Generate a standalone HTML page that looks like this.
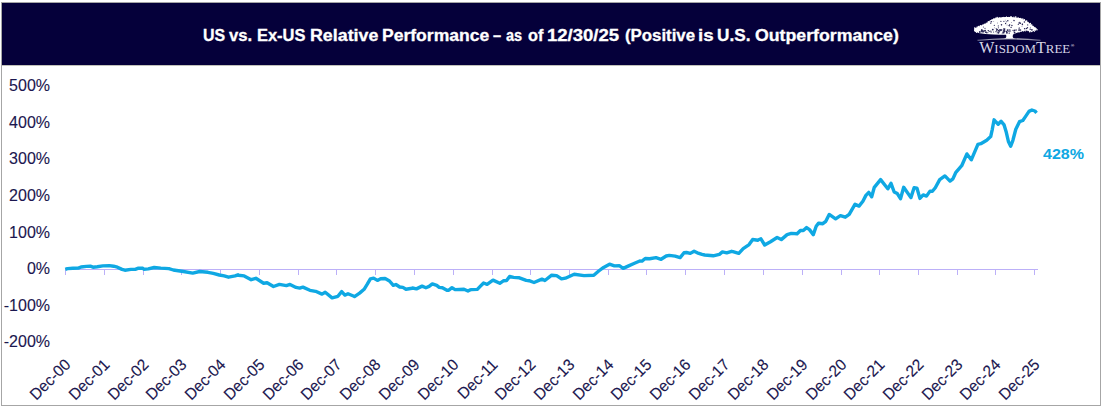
<!DOCTYPE html>
<html><head><meta charset="utf-8"><style>
html,body{margin:0;padding:0;}
body{width:1104px;height:409px;background:#fff;position:relative;overflow:hidden;font-family:"Liberation Sans",sans-serif;}
.frame{position:absolute;left:1px;top:2px;width:1100px;height:404px;box-sizing:border-box;border:1px solid #a6a6a6;}
.hdr{position:absolute;left:2px;top:3px;width:1098px;height:62px;background:#05003a;}
.title{position:absolute;left:0;top:26px;width:1104px;text-align:center;color:#fff;font-weight:bold;font-size:16px;line-height:20px;white-space:nowrap;}
.tw{position:absolute;top:26px;color:#fff;-webkit-text-stroke:0.3px #fff;font-weight:bold;font-size:16px;line-height:20px;white-space:nowrap;transform-origin:0 0;}
.yl{position:absolute;left:0;width:50px;text-align:right;font-size:16px;-webkit-text-stroke:0.12px #1b174f;line-height:18px;color:#1b174f;}
.xl{position:absolute;top:353px;width:100px;text-align:right;font-size:16px;-webkit-text-stroke:0.12px #1b174f;line-height:18px;color:#1b174f;transform-origin:100% 50%;transform:rotate(-45deg) scaleX(0.97);white-space:nowrap;}
.val{position:absolute;left:1043px;top:144.5px;font-size:15.5px;transform-origin:0 0;transform:scaleX(1.035);font-weight:bold;color:#0fa8e3;line-height:18px;}
svg{position:absolute;left:0;top:0;}
</style></head><body>
<div class="frame"></div>
<div class="hdr"></div><div style="position:absolute;left:2px;top:65px;width:1098px;height:1px;background:#c2c2ba"></div>

<svg width="1104" height="409" viewBox="0 0 1104 409">
<path d="M975,29.6 L975,28 L979,26.4 L982.8,24.8 L986.5,23.1 L990.3,20.5 L993.5,18.8 L997.3,17.8 L1002,17.2 L1006,17.0 L1011.3,17.1 L1016,17.5 L1020.9,18.2 L1024.5,20.1 L1028.2,22.6 L1031.9,25.2 L1035.5,27.8 L1036.6,29.8 L1034,31 L1030,31.2 L1026,30.4 L1021,31.6 L1017,32.8 L1013,34.6 L1006,34.8 L1000,34.8 L993.5,34.4 L985.4,33.9 L978.5,33.1 L975.2,31.2 Z" fill="#fff"/><g fill="#fff"><circle cx="975.0" cy="29.6" r="0.87"/><circle cx="975.0" cy="28.8" r="0.73"/><circle cx="974.7" cy="28.0" r="0.75"/><circle cx="977.2" cy="26.9" r="0.62"/><circle cx="978.7" cy="26.6" r="0.78"/><circle cx="980.5" cy="26.0" r="0.89"/><circle cx="982.9" cy="24.9" r="0.56"/><circle cx="984.3" cy="24.0" r="0.52"/><circle cx="986.3" cy="22.9" r="0.51"/><circle cx="988.4" cy="21.8" r="0.84"/><circle cx="990.3" cy="20.6" r="0.70"/><circle cx="992.0" cy="19.6" r="0.61"/><circle cx="993.9" cy="19.2" r="0.84"/><circle cx="995.6" cy="18.2" r="0.59"/><circle cx="997.1" cy="17.5" r="0.81"/><circle cx="999.6" cy="17.8" r="0.65"/><circle cx="1002.4" cy="17.5" r="0.50"/><circle cx="1003.8" cy="17.4" r="0.69"/><circle cx="1006.4" cy="16.9" r="0.53"/><circle cx="1008.8" cy="17.3" r="0.61"/><circle cx="1011.0" cy="17.0" r="0.89"/><circle cx="1013.9" cy="17.0" r="0.60"/><circle cx="1015.7" cy="17.1" r="0.82"/><circle cx="1018.2" cy="17.9" r="0.68"/><circle cx="1020.7" cy="18.4" r="0.55"/><circle cx="1022.8" cy="18.8" r="0.67"/><circle cx="1024.3" cy="19.9" r="0.89"/><circle cx="1026.6" cy="21.2" r="0.85"/><circle cx="1028.0" cy="22.5" r="0.84"/><circle cx="1030.2" cy="23.6" r="0.90"/><circle cx="1031.7" cy="25.0" r="0.81"/><circle cx="1033.6" cy="26.3" r="0.53"/><circle cx="1035.2" cy="27.9" r="0.60"/><circle cx="1036.1" cy="28.7" r="0.68"/><circle cx="1037.0" cy="29.8" r="0.73"/><circle cx="1035.6" cy="30.1" r="0.56"/><circle cx="1034.3" cy="31.3" r="0.60"/><circle cx="1031.8" cy="31.3" r="0.88"/><circle cx="1029.8" cy="31.6" r="0.85"/><circle cx="1028.1" cy="30.7" r="0.54"/><circle cx="1025.6" cy="30.8" r="0.60"/><circle cx="1023.7" cy="30.8" r="0.83"/><circle cx="1021.1" cy="31.4" r="0.57"/><circle cx="1019.2" cy="31.9" r="0.59"/><circle cx="976.5" cy="32.3" r="0.69"/><circle cx="975.4" cy="31.1" r="0.90"/><circle cx="974.8" cy="30.4" r="0.79"/></g>
<path d="M1006.1,34 L1013,34 L1012.7,36.8 C1012.9,37.8 1013.8,38.3 1015,38.6 L1004,38.6 C1005.3,38.3 1006.1,37.8 1006.3,36.8 Z" fill="#fff"/>
<defs><linearGradient id="gl" x1="977" x2="1041" y1="0" y2="0" gradientUnits="userSpaceOnUse"><stop offset="0" stop-color="#fff" stop-opacity="0.35"/><stop offset="0.5" stop-color="#fff" stop-opacity="0.95"/><stop offset="1" stop-color="#fff" stop-opacity="0.35"/></linearGradient></defs><path d="M977.5,40.4 Q1008,37.2 1040.5,40.4" fill="none" stroke="url(#gl)" stroke-width="1.1"/>
<g fill="#05003a" opacity="0.85"><circle cx="991.6" cy="21.5" r="0.56"/><circle cx="985.0" cy="28.3" r="0.59"/><circle cx="1004.4" cy="29.7" r="0.89"/><circle cx="999.7" cy="31.1" r="0.67"/><circle cx="1011.1" cy="27.4" r="0.66"/><circle cx="985.8" cy="32.1" r="0.93"/><circle cx="1030.3" cy="27.2" r="0.45"/><circle cx="979.8" cy="32.0" r="0.94"/><circle cx="981.3" cy="31.1" r="0.66"/><circle cx="1019.1" cy="23.1" r="0.79"/><circle cx="1001.9" cy="29.7" r="0.57"/><circle cx="997.2" cy="29.5" r="0.82"/><circle cx="998.6" cy="30.6" r="0.46"/><circle cx="1010.2" cy="30.0" r="0.61"/><circle cx="989.4" cy="31.2" r="0.57"/><circle cx="996.0" cy="31.7" r="0.67"/><circle cx="996.2" cy="28.6" r="0.55"/><circle cx="1007.8" cy="20.7" r="0.73"/><circle cx="1024.4" cy="28.4" r="0.51"/><circle cx="1002.1" cy="33.7" r="0.45"/><circle cx="1011.3" cy="22.4" r="0.37"/><circle cx="1030.2" cy="29.3" r="0.75"/><circle cx="991.1" cy="32.1" r="0.69"/><circle cx="1008.1" cy="31.4" r="0.54"/><circle cx="1001.4" cy="25.5" r="0.35"/><circle cx="983.4" cy="26.9" r="0.52"/><circle cx="998.4" cy="27.8" r="0.52"/><circle cx="998.3" cy="25.9" r="0.54"/><circle cx="1001.5" cy="24.7" r="0.77"/><circle cx="998.5" cy="32.8" r="0.85"/><circle cx="1024.8" cy="28.8" r="0.71"/><circle cx="1016.1" cy="30.0" r="0.73"/><circle cx="984.6" cy="30.7" r="0.47"/><circle cx="983.3" cy="31.8" r="0.79"/><circle cx="1010.7" cy="31.1" r="0.47"/><circle cx="1022.0" cy="26.2" r="0.40"/><circle cx="1009.8" cy="31.6" r="0.57"/><circle cx="1013.0" cy="30.3" r="0.65"/><circle cx="1005.0" cy="28.4" r="0.42"/><circle cx="981.8" cy="30.2" r="0.91"/><circle cx="1007.0" cy="25.0" r="0.43"/><circle cx="1018.3" cy="24.5" r="0.61"/><circle cx="997.6" cy="23.0" r="0.41"/><circle cx="1011.9" cy="25.5" r="0.72"/><circle cx="1009.4" cy="25.7" r="0.74"/><circle cx="1000.0" cy="30.0" r="0.93"/><circle cx="1019.1" cy="29.0" r="0.73"/><circle cx="1001.4" cy="29.9" r="0.49"/><circle cx="981.6" cy="31.7" r="0.60"/><circle cx="998.5" cy="30.6" r="0.83"/><circle cx="1024.4" cy="22.0" r="0.78"/><circle cx="1005.6" cy="23.5" r="0.66"/><circle cx="1013.9" cy="20.5" r="0.64"/><circle cx="1019.0" cy="30.3" r="0.72"/><circle cx="999.0" cy="32.3" r="0.47"/><circle cx="1006.3" cy="21.7" r="0.51"/><circle cx="1022.3" cy="23.5" r="0.40"/><circle cx="982.8" cy="30.7" r="0.81"/><circle cx="1001.0" cy="30.1" r="0.86"/><circle cx="984.1" cy="31.0" r="0.76"/><circle cx="1027.5" cy="27.7" r="0.67"/><circle cx="1020.4" cy="23.3" r="0.77"/><circle cx="1027.7" cy="24.9" r="0.57"/><circle cx="994.3" cy="25.4" r="0.53"/><circle cx="986.8" cy="32.8" r="0.81"/><circle cx="988.5" cy="30.8" r="0.52"/><circle cx="1019.7" cy="22.2" r="0.56"/><circle cx="991.0" cy="22.0" r="0.63"/><circle cx="1004.6" cy="31.2" r="0.91"/><circle cx="994.3" cy="27.8" r="0.39"/><circle cx="993.6" cy="31.9" r="0.51"/><circle cx="1020.4" cy="30.0" r="0.87"/><circle cx="1009.2" cy="33.2" r="0.63"/><circle cx="1000.9" cy="21.4" r="0.57"/><circle cx="1019.2" cy="27.8" r="0.52"/><circle cx="1005.2" cy="20.1" r="0.36"/><circle cx="1004.0" cy="30.4" r="0.79"/><circle cx="1026.6" cy="28.4" r="0.74"/><circle cx="1003.0" cy="32.7" r="0.82"/><circle cx="1009.7" cy="24.6" r="0.62"/><circle cx="988.0" cy="32.7" r="0.49"/><circle cx="1003.9" cy="21.3" r="0.63"/><circle cx="1014.5" cy="30.4" r="0.89"/><circle cx="982.7" cy="31.7" r="0.75"/><circle cx="1008.4" cy="25.4" r="0.38"/><circle cx="1009.2" cy="30.0" r="0.66"/><circle cx="1031.9" cy="29.8" r="0.89"/><circle cx="1022.4" cy="24.4" r="0.76"/><circle cx="981.8" cy="29.8" r="0.60"/><circle cx="996.7" cy="30.1" r="0.82"/><circle cx="985.2" cy="30.5" r="0.80"/><circle cx="997.6" cy="32.0" r="0.59"/><circle cx="1003.8" cy="32.6" r="0.85"/><circle cx="993.8" cy="21.6" r="0.35"/><circle cx="988.2" cy="30.6" r="0.68"/><circle cx="990.8" cy="31.1" r="0.66"/><circle cx="1006.5" cy="31.6" r="0.73"/><circle cx="1014.6" cy="32.7" r="0.90"/><circle cx="1004.0" cy="28.8" r="0.72"/><circle cx="1003.3" cy="31.2" r="0.68"/><circle cx="992.8" cy="29.6" r="0.91"/><circle cx="1006.9" cy="32.7" r="0.93"/><circle cx="1014.6" cy="20.8" r="0.43"/><circle cx="999.0" cy="31.6" r="0.61"/><circle cx="1007.6" cy="30.1" r="0.87"/><circle cx="1013.9" cy="31.4" r="0.45"/><circle cx="997.1" cy="33.1" r="0.49"/><circle cx="990.8" cy="23.5" r="0.57"/></g>
<text x="979.2" y="53.1" fill="#d6d5e6" font-family="Liberation Serif" textLength="91" lengthAdjust="spacingAndGlyphs"><tspan font-size="16">W</tspan><tspan font-size="12.9">ISDOM</tspan><tspan font-size="16">T</tspan><tspan font-size="12.9">REE</tspan></text>
<text x="1070.9" y="46.8" fill="#e0e0ea" font-family="Liberation Sans" font-weight="bold" font-size="4.3">®</text>
</svg>

<div class="tw" style="left:202.60px;transform:scaleX(0.9952)">US</div><div class="tw" style="left:229.00px;transform:scaleX(1.0409)">vs.</div><div class="tw" style="left:256.87px;transform:scaleX(1.0283)">Ex-US</div><div class="tw" style="left:309.79px;transform:scaleX(1.1133)">Relative</div><div class="tw" style="left:381.70px;transform:scaleX(1.0959)">Performance</div><div class="tw" style="left:493.20px;transform:scaleX(0.9111)">–</div><div class="tw" style="left:506.30px;transform:scaleX(0.9056)">as</div><div class="tw" style="left:527.50px;transform:scaleX(1.0187)">of</div><div class="tw" style="left:547.44px;transform:scaleX(1.1574)">12/30/25</div><div class="tw" style="left:624.60px;transform:scaleX(1.0507)">(Positive</div><div class="tw" style="left:697.83px;transform:scaleX(1.1667)">is</div><div class="tw" style="left:717.03px;transform:scaleX(1.0733)">U.S.</div><div class="tw" style="left:755.40px;transform:scaleX(1.1078)">Outperformance)</div>
<svg width="1104" height="409" viewBox="0 0 1104 409">
<g fill="#bcb0f8" shape-rendering="crispEdges">
<rect x="65" y="269" width="973" height="1" />
<rect x="65" y="270" width="1" height="5" /><rect x="104" y="270" width="1" height="5" /><rect x="143" y="270" width="1" height="5" /><rect x="181" y="270" width="1" height="5" /><rect x="220" y="270" width="1" height="5" /><rect x="259" y="270" width="1" height="5" /><rect x="298" y="270" width="1" height="5" /><rect x="336" y="270" width="1" height="5" /><rect x="375" y="270" width="1" height="5" /><rect x="414" y="270" width="1" height="5" /><rect x="453" y="270" width="1" height="5" /><rect x="492" y="270" width="1" height="5" /><rect x="530" y="270" width="1" height="5" /><rect x="569" y="270" width="1" height="5" /><rect x="608" y="270" width="1" height="5" /><rect x="646" y="270" width="1" height="5" /><rect x="685" y="270" width="1" height="5" /><rect x="724" y="270" width="1" height="5" /><rect x="763" y="270" width="1" height="5" /><rect x="802" y="270" width="1" height="5" /><rect x="841" y="270" width="1" height="5" /><rect x="879" y="270" width="1" height="5" /><rect x="918" y="270" width="1" height="5" /><rect x="957" y="270" width="1" height="5" /><rect x="995" y="270" width="1" height="5" /><rect x="1034" y="270" width="1" height="5" />
</g>
<path d="M65.3,269.3 L67.4,268.6 L72.9,268.3 L78.3,268.1 L81.0,267.0 L86.5,266.4 L90.3,266.2 L93.0,267.2 L97.3,266.7 L102.8,265.9 L109.3,265.6 L113.6,266.2 L117.4,267.2 L122.0,269.4 L124.9,270.2 L130.9,269.4 L135.2,269.4 L138.5,268.1 L142.8,268.3 L143.9,269.2 L148.3,268.9 L154.2,267.5 L160.8,268.1 L168.9,268.6 L173.3,270.0 L180.0,271.0 L183.4,271.5 L192.7,273.1 L199.7,271.5 L207.9,272.3 L213.3,273.4 L219.3,275.0 L224.2,275.9 L228.5,277.2 L235.1,275.9 L238.0,274.8 L238.3,275.1 L238.3,275.3 L244.2,275.9 L251.2,279.7 L255.9,278.3 L263.6,283.2 L267.1,282.7 L273.5,286.5 L279.4,284.4 L286.4,285.6 L290.0,284.4 L296.0,287.4 L299.7,288.1 L302.9,287.1 L309.9,290.3 L315.6,291.3 L322.0,294.1 L325.2,292.2 L332.1,297.9 L337.9,296.3 L341.7,291.6 L344.9,295.1 L348.0,293.8 L354.0,296.3 L354.5,296.6 L359.6,293.1 L364.1,289.3 L367.3,284.2 L370.4,278.8 L373.6,278.1 L377.4,280.4 L380.6,278.8 L385.1,278.5 L389.5,281.0 L393.3,285.4 L395.9,284.5 L399.7,287.0 L402.9,287.4 L406.0,289.3 L412.0,288.3 L412.5,288.0 L416.4,288.9 L422.1,286.1 L425.9,287.7 L429.1,286.4 L432.3,283.9 L436.7,285.4 L439.2,287.4 L442.4,287.7 L446.9,290.2 L448.8,290.2 L452.0,287.7 L455.1,289.6 L464.0,289.3 L467.9,291.0 L470.0,289.9 L471.4,289.6 L477.3,289.4 L480.2,286.4 L483.6,283.0 L487.1,284.3 L493.0,280.1 L499.8,283.3 L503.7,280.7 L506.6,280.5 L509.6,276.4 L513.5,277.4 L519.4,277.8 L526.2,280.4 L529.1,280.7 L534.0,282.5 L541.9,279.1 L544.9,280.5 L551.7,275.2 L556.6,275.6 L561.5,278.9 L565.4,278.2 L574.2,274.3 L584.0,275.6 L593.8,275.2 L598.7,271.0 L603.6,267.4 L609.5,264.2 L614.4,265.9 L619.3,265.7 L623.2,268.4 L628.1,266.1 L633.9,263.5 L639.8,261.0 L641.1,261.1 L642.0,261.1 L645.2,258.5 L649.6,258.7 L656.0,257.6 L661.1,259.3 L666.2,256.0 L669.3,255.4 L675.1,256.1 L680.1,257.6 L684.0,252.8 L686.5,252.5 L690.3,253.4 L694.1,251.2 L697.3,252.8 L702.0,254.4 L704.7,255.0 L713.2,255.8 L719.4,254.3 L722.4,251.9 L726.7,252.9 L731.6,251.3 L732.9,251.6 L738.8,253.4 L743.2,248.7 L749.1,244.6 L752.7,239.5 L757.9,240.2 L758.0,240.0 L760.9,238.8 L764.7,245.0 L770.5,241.7 L777.1,237.5 L781.3,239.6 L787.1,234.6 L791.3,233.4 L797.1,233.8 L800.4,230.5 L803.3,230.5 L806.6,227.6 L809.5,229.6 L813.3,234.6 L816.2,226.3 L818.3,223.4 L818.9,223.2 L822.8,223.7 L825.8,221.3 L829.2,214.4 L835.6,218.8 L840.4,215.6 L845.3,217.2 L849.2,214.4 L855.1,204.2 L859.0,206.1 L862.9,201.2 L865.9,195.4 L868.8,192.4 L871.7,196.8 L874.3,187.3 L880.6,179.6 L887.8,188.8 L891.0,183.3 L894.2,192.0 L897.3,193.6 L900.5,198.7 L903.7,187.3 L910.9,197.6 L914.1,187.8 L917.0,188.2 L919.9,198.4 L923.2,194.9 L926.5,196.1 L930.0,191.1 L932.4,191.3 L935.3,187.7 L939.7,179.6 L944.9,175.9 L950.0,181.1 L952.9,178.9 L955.9,172.3 L961.7,165.7 L966.9,153.9 L971.3,159.8 L977.9,144.4 L980.8,143.7 L986.7,140.2 L990.7,136.6 L992.3,129.3 L994.1,119.8 L996.0,122.0 L998.2,124.2 L1001.1,121.3 L1004.1,124.9 L1006.3,132.3 L1008.5,141.8 L1010.7,146.2 L1012.9,140.3 L1015.8,129.3 L1019.5,121.7 L1022.8,120.5 L1025.3,116.9 L1029.0,111.4 L1031.9,110.0 L1034.9,111.0 L1036.6,112.9" fill="none" stroke="#0fa8e3" stroke-width="3.4" stroke-linejoin="round" stroke-linecap="butt"/>
</svg>
<div class="yl" style="top:76.8px">500%</div><div class="yl" style="top:113.8px">400%</div><div class="yl" style="top:149.8px">300%</div><div class="yl" style="top:186.8px">200%</div><div class="yl" style="top:223.8px">100%</div><div class="yl" style="top:259.8px">0%</div><div class="yl" style="top:296.8px">-100%</div><div class="yl" style="top:332.8px">-200%</div>
<div class="xl" style="left:-32.2px">Dec-00</div><div class="xl" style="left:6.8px">Dec-01</div><div class="xl" style="left:45.8px">Dec-02</div><div class="xl" style="left:83.8px">Dec-03</div><div class="xl" style="left:122.8px">Dec-04</div><div class="xl" style="left:161.8px">Dec-05</div><div class="xl" style="left:200.8px">Dec-06</div><div class="xl" style="left:238.8px">Dec-07</div><div class="xl" style="left:277.8px">Dec-08</div><div class="xl" style="left:316.8px">Dec-09</div><div class="xl" style="left:355.8px">Dec-10</div><div class="xl" style="left:394.8px">Dec-11</div><div class="xl" style="left:432.8px">Dec-12</div><div class="xl" style="left:471.8px">Dec-13</div><div class="xl" style="left:510.8px">Dec-14</div><div class="xl" style="left:548.8px">Dec-15</div><div class="xl" style="left:587.8px">Dec-16</div><div class="xl" style="left:626.8px">Dec-17</div><div class="xl" style="left:665.8px">Dec-18</div><div class="xl" style="left:704.8px">Dec-19</div><div class="xl" style="left:743.8px">Dec-20</div><div class="xl" style="left:781.8px">Dec-21</div><div class="xl" style="left:820.8px">Dec-22</div><div class="xl" style="left:859.8px">Dec-23</div><div class="xl" style="left:897.8px">Dec-24</div><div class="xl" style="left:936.8px">Dec-25</div>
<div class="val">428%</div>
</body></html>
